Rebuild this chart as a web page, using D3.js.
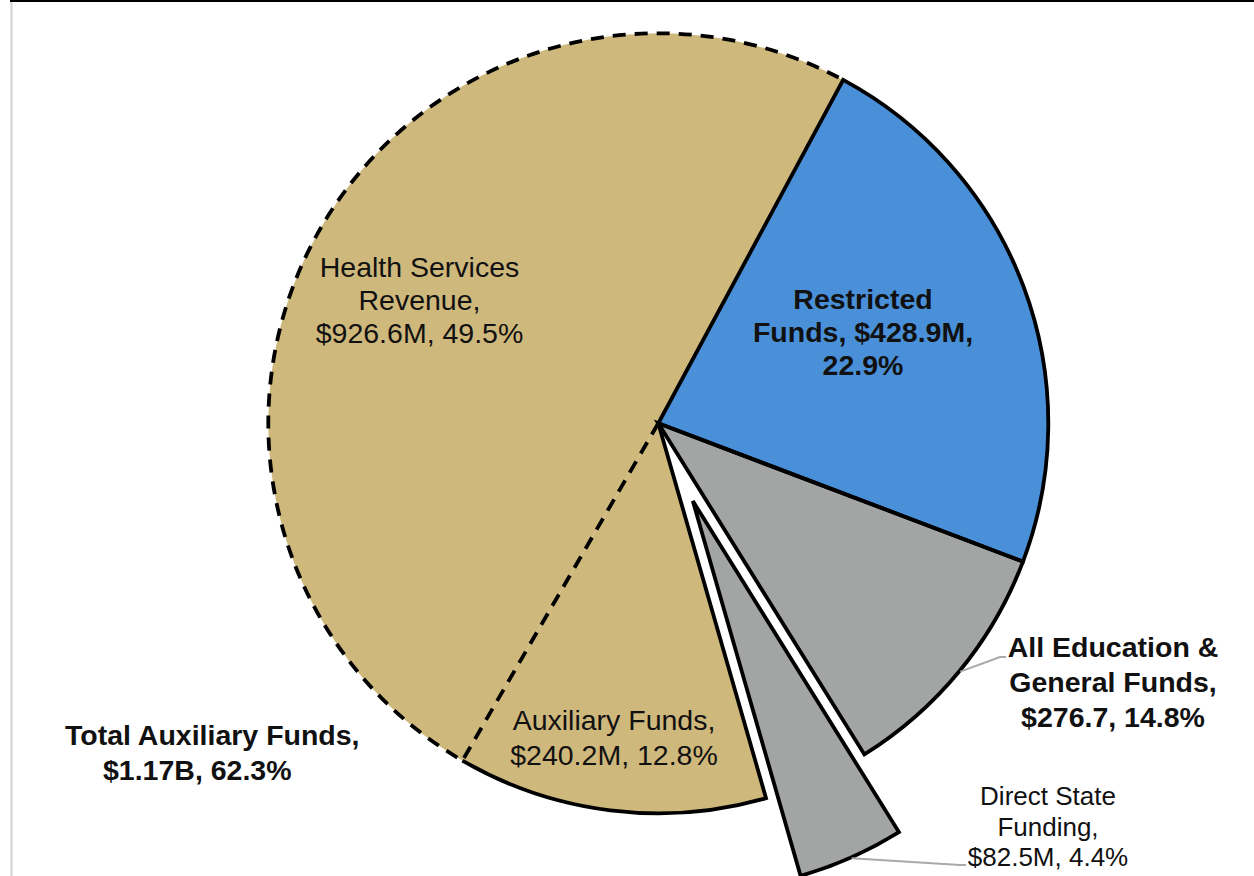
<!DOCTYPE html>
<html>
<head>
<meta charset="utf-8">
<script src="https://cdn.jsdelivr.net/npm/d3@7"></script>
<style>
  html, body { margin: 0; padding: 0; background: #fff; }
  svg { display: block; }
</style>
</head>
<body>
<svg id="chart" width="1254" height="876"></svg>
<script>
// ---------------- DATA ----------------
const categories = ["Restricted Funds", "Other Education & General Funds", "Direct State Funding", "Auxiliary Funds", "Health Services Revenue"];
// $M; the E&G slice shown is All E&G ($276.7M) minus Direct State Funding ($82.5M), which is exploded
const valuesM = [428.9, 194.2, 82.5, 240.2, 926.6];
const sliceColors = ["#4A90D9", "#A3A5A4", "#A3A5A4", "#CFB87C", "#CFB87C"];
const explodedIndex = 2;

const labelHealth = ["Health Services", "Revenue,", "$926.6M, 49.5%"];
const labelRestricted = ["Restricted", "Funds, $428.9M,", "22.9%"];
const labelAux = ["Auxiliary Funds,", "$240.2M, 12.8%"];
const labelEG = ["All Education &", "General Funds,", "$276.7, 14.8%"];
const labelDSF = ["Direct State", "Funding,", "$82.5M, 4.4%"];
const labelTotalAux = ["Total Auxiliary Funds,", "$1.17B, 62.3%"];

// ---------------- LAYOUT ----------------
const cx = 658.3, cy = 423.3, R = 390;
const startDeg = 28.3;
const explodeDist = 85;
const FONT = "'Liberation Sans', Arial, Helvetica, sans-serif";

const svg = d3.select("#chart");

// frame lines
svg.append("line").attr("x1", 11.5).attr("x2", 11.5).attr("y1", 0).attr("y2", 876)
  .attr("stroke", "#d9d9d9").attr("stroke-width", 2.5);
svg.append("line").attr("x1", 10).attr("x2", 1254).attr("y1", 1).attr("y2", 1)
  .attr("stroke", "#000").attr("stroke-width", 2);

const a0 = startDeg * Math.PI / 180;
const pie = d3.pie().sort(null).value(d => d).startAngle(a0).endAngle(a0 + 2 * Math.PI);
const arcs = pie(valuesM);
const arc = d3.arc().innerRadius(0).outerRadius(R);

const g = svg.append("g").attr("transform", `translate(${cx},${cy})`);

function offsetFor(i) {
  if (i !== explodedIndex) return [0, 0];
  const mid = (arcs[i].startAngle + arcs[i].endAngle) / 2;
  return [explodeDist * Math.sin(mid), -explodeDist * Math.cos(mid)];
}
function pt(a, r) { return [r * Math.sin(a), -r * Math.cos(a)]; }

// fills
g.selectAll("path.slice").data(arcs).enter().append("path")
  .attr("class", "slice")
  .attr("transform", (d, i) => `translate(${offsetFor(i)})`)
  .attr("d", arc)
  .attr("fill", (d, i) => sliceColors[i])
  .attr("stroke", "none");

const strokeW = 3.8;
// solid full outlines: Restricted, E&G, Direct State
[0, 1, 2].forEach(i => {
  g.append("path")
    .attr("transform", `translate(${offsetFor(i)})`)
    .attr("d", arc(arcs[i]))
    .attr("fill", "none").attr("stroke", "#000").attr("stroke-width", strokeW)
    .attr("stroke-linejoin", "miter");
});

// Auxiliary: right radial edge + outer arc (solid)
{
  const d = arcs[3];
  const p = d3.path();
  p.moveTo(0, 0);
  const s = pt(d.startAngle, R);
  p.lineTo(s[0], s[1]);
  p.arc(0, 0, R, d.startAngle - Math.PI / 2, d.endAngle - Math.PI / 2, false);
  g.append("path").attr("d", p.toString())
    .attr("fill", "none").attr("stroke", "#000").attr("stroke-width", strokeW);
}
// Health: radial edge with Aux + outer arc (dashed)
{
  const d = arcs[4];
  const p = d3.path();
  p.moveTo(0, 0);
  const s = pt(d.startAngle, R);
  p.lineTo(s[0], s[1]);
  p.arc(0, 0, R, d.startAngle - Math.PI / 2, d.endAngle - Math.PI / 2, false);
  g.append("path").attr("d", p.toString())
    .attr("fill", "none").attr("stroke", "#000").attr("stroke-width", strokeW)
    .attr("stroke-dasharray", "13,9");
}

// leader lines
function leader(i, endPts) {
  const mid = (arcs[i].startAngle + arcs[i].endAngle) / 2;
  const o = offsetFor(i);
  const s = pt(mid, R + 1);
  const pts = [[cx + o[0] + s[0], cy + o[1] + s[1]]].concat(endPts);
  svg.append("path").attr("d", d3.line()(pts))
    .attr("fill", "none").attr("stroke", "#a9a9a9").attr("stroke-width", 2);
}
leader(1, [[1000, 657], [1006, 657]]);
leader(2, [[960, 865], [966, 865]]);

// labels
function label(lines, x, ys, opts) {
  const t = svg.append("text")
    .attr("font-family", FONT)
    .attr("font-size", opts.size)
    .attr("font-weight", opts.bold ? "bold" : "normal")
    .attr("fill", "#111")
    .attr("text-anchor", opts.anchor || "middle");
  lines.forEach((ln, k) => {
    t.append("tspan").attr("x", Array.isArray(x) ? x[k] : x).attr("y", ys[k]).text(ln);
  });
}
label(labelHealth, 419.5, [277, 310, 343], { size: 28.5 });
label(labelRestricted, 863, [309, 342, 375], { size: 28.5, bold: true });
label(labelAux, 614, [730, 765], { size: 28.5 });
label(labelEG, 1113, [657, 692, 727], { size: 28.5, bold: true });
label(labelDSF, 1048, [805, 836, 866], { size: 26 });
label(labelTotalAux, [65, 103], [745, 780], { size: 28.5, bold: true, anchor: "start" });
</script>
</body>
</html>
